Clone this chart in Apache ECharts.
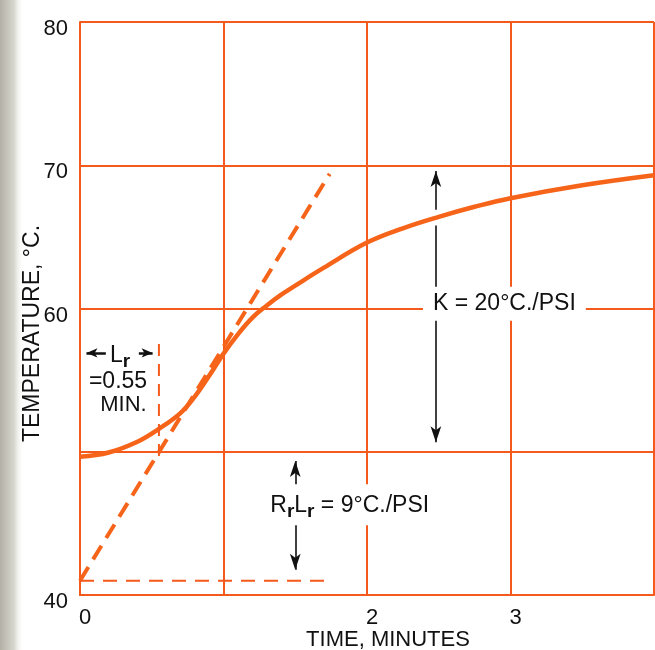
<!DOCTYPE html>
<html>
<head>
<meta charset="utf-8">
<script src="https://cdn.jsdelivr.net/npm/echarts@6/dist/echarts.min.js"></script>
<style>
  html, body { margin: 0; padding: 0; background: #ffffff; }
  #chart { width: 655px; height: 650px; }
</style>
</head>
<body>
<div id="chart"></div>
<script>
// ---- data ----
const timeMin   = [0, 0.2, 0.4, 0.55, 0.7, 0.8, 0.9, 1.0, 1.1, 1.2, 1.3, 1.4, 1.5, 1.7, 2.0, 2.25, 2.5, 2.75, 3.0, 3.5, 4.0];
const tempC     = [49.65, 49.95, 50.7, 51.6, 52.7, 53.85, 55.3, 56.85, 58.2, 59.35, 60.2, 60.95, 61.6, 62.85, 64.6, 65.6, 66.4, 67.1, 67.7, 68.6, 69.3];
const tangentTime = [0, 1.74];
const tangentTemp = [41, 69.4];
const baseTime  = [0, 1.73];
const baseTemp  = [41, 41];
const lagTime   = [0.55, 0.55];
const lagTemp   = [49.7, 57.9];
const xTickLabels = [0, 2, 3];
const yTickLabels = [40, 60, 70, 80];
const kLabel  = 'K = 20°C./PSI';
const rlLabel = '= 9°C./PSI';
const lrValue = '=0.55';
const lrUnit  = 'MIN.';

// ---- styles ----
const ORANGE = '#F35A1C';
const CURVE  = '#F6641A';
const INK    = '#111111';
const FONT   = '"Liberation Sans", Arial, Helvetica, sans-serif';

const zip = (a, b) => a.map((v, i) => [v, b[i]]);

const chart = echarts.init(document.getElementById('chart'), null, { renderer: 'canvas' });

const subRich = {
  n: { fontSize: 23, color: INK, fontFamily: FONT },
  s: { fontSize: 19, fontWeight: 'bold', color: INK, fontFamily: FONT, padding: [12, 0, 0, 0] }
};

const option = {
  animation: false,
  backgroundColor: '#ffffff',
  graphic: [{
    type: 'rect',
    z: -10,
    shape: { x: 0, y: 0, width: 24, height: 650 },
    style: {
      fill: new echarts.graphic.LinearGradient(0, 0, 1, 0, [
        { offset: 0, color: '#b3b1a6' },
        { offset: 0.6, color: '#d9d8d0' },
        { offset: 1, color: 'rgba(255,255,255,0)' }
      ])
    }
  }],
  grid: { left: 80, right: 1, top: 22, bottom: 55, containLabel: false, outerBoundsMode: 'none' },
  xAxis: {
    type: 'value', min: 0, max: 4, interval: 1,
    name: 'TIME, MINUTES', nameLocation: 'middle', nameGap: 34, nameMoveOverlap: false,
    nameTextStyle: { fontSize: 22, color: INK, fontFamily: FONT, padding: [0, 0, 0, 42] },
    axisLine: { show: true, lineStyle: { color: ORANGE, width: 2 } },
    axisTick: { show: false },
    splitLine: { show: true, lineStyle: { color: ORANGE, width: 2 } },
    axisLabel: {
      fontSize: 22, color: INK, fontFamily: FONT, margin: 12, padding: [0, 0, 0, 10],
      formatter: v => xTickLabels.includes(v) ? String(v) : ''
    }
  },
  yAxis: {
    type: 'value', min: 40, max: 80, interval: 10,
    name: 'TEMPERATURE, °C.', nameLocation: 'middle', nameGap: 36, nameRotate: 90, nameMoveOverlap: false,
    nameTextStyle: { fontSize: 23, color: INK, fontFamily: FONT, padding: [0, 50, 0, 0] },
    axisLine: { show: true, lineStyle: { color: ORANGE, width: 2 } },
    axisTick: { show: false },
    splitLine: { show: true, lineStyle: { color: ORANGE, width: 2 } },
    axisLabel: {
      color: INK, margin: 12,
      verticalAlign: 'middle', verticalAlignMinLabel: 'middle', verticalAlignMaxLabel: 'middle',
      formatter: v => yTickLabels.includes(v) ? '{v|' + v + '}' : '',
      rich: { v: { fontSize: 22, color: INK, fontFamily: FONT, padding: [14, 0, 0, 0] } }
    }
  },
  series: [
    {
      name: 'response', type: 'line', z: 4,
      data: zip(timeMin, tempC), smooth: 0.4,
      showSymbol: false, symbol: 'none',
      lineStyle: { color: CURVE, width: 4.5 }
    },
    {
      name: 'tangent', type: 'line', z: 4,
      data: zip(tangentTime, tangentTemp), showSymbol: false, symbol: 'none',
      lineStyle: { color: CURVE, width: 4, type: [16, 9] }
    },
    {
      name: 'base', type: 'line', z: 4,
      data: zip(baseTime, baseTemp), showSymbol: false, symbol: 'none',
      lineStyle: { color: ORANGE, width: 2, type: [14, 9] }
    },
    {
      name: 'lag', type: 'line', z: 4,
      data: zip(lagTime, lagTemp), showSymbol: false, symbol: 'none',
      lineStyle: { color: ORANGE, width: 2, type: [12, 8] }
    },
    {
      name: 'bigArrows', type: 'line', z: 5, data: [],
      markLine: {
        silent: true, animation: false,
        symbolSize: [8, 16],
        label: { show: false },
        lineStyle: { color: INK, width: 1.6, type: 'solid' },
        data: [
          [{ coord: [2.48, 69.6], symbol: 'arrow' }, { coord: [2.48, 66.9], symbol: 'none' }],
          [{ coord: [2.48, 65.8], symbol: 'none' }, { coord: [2.48, 50.66], symbol: 'arrow' }],
          [{ coord: [1.5, 49.35], symbol: 'arrow' }, { coord: [1.5, 41.76], symbol: 'arrow' }]
        ]
      }
    },
    {
      name: 'lagArrows', type: 'line', z: 5, data: [],
      markLine: {
        silent: true, animation: false,
        symbolSize: [7, 11],
        label: { show: false },
        lineStyle: { color: INK, width: 2.5, type: 'solid' },
        data: [
          [{ coord: [0.18, 56.9], symbol: 'none' }, { coord: [0.045, 56.9], symbol: 'arrow' }],
          [{ coord: [0.41, 56.9], symbol: 'none' }, { coord: [0.506, 56.9], symbol: 'arrow' }]
        ]
      }
    },
    {
      name: 'labels', type: 'scatter', z: 10, symbolSize: 0.1,
      itemStyle: { color: 'rgba(0,0,0,0)' },
      silent: true,
      data: [
        { value: [2.39, 60.34], label: {
            show: true, position: 'right', distance: 0, formatter: kLabel, opacity: 1,
            fontSize: 23, color: INK, fontFamily: FONT,
            backgroundColor: '#ffffff', padding: [6, 10, 5, 10] } },
        { value: [1.27, 46.3], label: {
            show: true, position: 'right', distance: 0, opacity: 1,
            formatter: '{n|R}{s|r}{n|L}{s|r}{n| ' + rlLabel + '}',
            rich: subRich, backgroundColor: '#ffffff', padding: [6, 6, 4, 8] } },
        { value: [0.279, 56.7], label: {
            show: true, position: 'inside', formatter: '{n|L}{s|r}', rich: subRich, opacity: 1 } },
        { value: [0.265, 54.86], label: {
            show: true, position: 'inside', formatter: lrValue, opacity: 1,
            fontSize: 23, color: INK, fontFamily: FONT } },
        { value: [0.303, 53.26], label: {
            show: true, position: 'inside', formatter: lrUnit, opacity: 1,
            fontSize: 22, color: INK, fontFamily: FONT } }
      ]
    }
  ]
};

chart.setOption(option);
</script>
</body>
</html>
